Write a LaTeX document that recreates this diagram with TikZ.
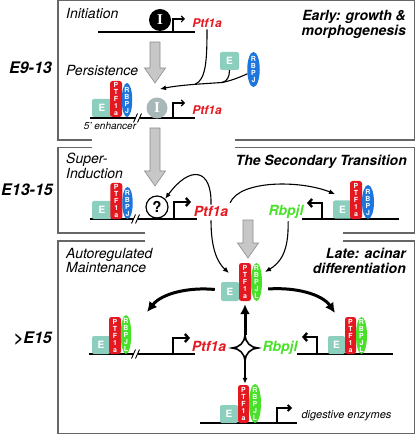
\documentclass[tikz,border=0pt]{standalone}
\usepackage{fontspec}
\setmainfont{TeX Gyre Heros}
\newfontfamily\serI{Liberation Serif}
\usetikzlibrary{shapes.geometric,arrows.meta}

\definecolor{ptfred}{RGB}{228,24,32}
\definecolor{rbpjblue}{RGB}{28,118,222}
\definecolor{rbpjlgreen}{RGB}{72,224,40}
\definecolor{ecol}{RGB}{141,207,191}
\definecolor{igray}{RGB}{168,184,184}

\tikzset{
  panelline/.style={draw=black!60, line width=1.2pt},
  dna/.style={line width=1.6pt},
  brk/.style={line width=0.9pt},
  ebox/.style={rectangle, rounded corners=2pt, fill=ecol, inner sep=0pt, minimum width=19pt, minimum height=18pt, text=white, font=\fontsize{10}{10}\selectfont\bfseries},
  ptfbox/.style={rectangle, rounded corners=2.5pt, fill=ptfred, inner sep=0pt, minimum width=12pt, minimum height=37pt},
  rbpjov/.style={ellipse, fill=rbpjblue, inner sep=0pt, minimum width=11pt, minimum height=34pt},
  rbpjlov/.style={ellipse, fill=rbpjlgreen, inner sep=0pt, minimum width=11pt, minimum height=38pt},
  lett/.style={text=white, font=\fontsize{7}{7}\selectfont\bfseries, align=center, inner sep=0pt},
  phaselbl/.style={font=\fontsize{14}{14.5}\selectfont\itshape, align=left, inner sep=0pt, anchor=north west},
  headlbl/.style={font=\fontsize{14}{15}\selectfont\bfseries\itshape, align=right, inner sep=0pt, anchor=north east},
  stagelbl/.style={font=\fontsize{16}{16}\selectfont\bfseries\itshape, inner sep=0pt, anchor=base east},
  gene/.style={font=\fontsize{14}{14}\selectfont\bfseries\itshape, inner sep=1pt, anchor=base},
  grayarr/.style={fill=black!22, draw=black!45, line width=0.6pt},
  arr/.style={-{Latex[length=6pt,width=5pt]}, line width=1.1pt},
  fatarr/.style={-{Latex[length=10pt,width=10pt]}, line width=3pt},
  prom/.style={-{Straight Barb[length=3pt,width=6pt]}, line width=1.1pt},
  fatprom/.style={-{Straight Barb[length=3.5pt,width=8pt]}, line width=2.4pt},
}

\begin{document}
\begin{tikzpicture}[x=1pt,y=-1pt]
  \useasboundingbox (0,0) rectangle (416,435);

  % panels
  \draw[panelline] (92,140) -- (58,140) -- (58,0.8) -- (414.5,0.8) -- (414.5,140) -- (235,140);
  \draw[panelline] (92,147.5) -- (58,147.5) -- (58,233) -- (145,233);
  \draw[panelline] (343,233) -- (414.5,233) -- (414.5,147.5) -- (235,147.5);
  \draw[panelline] (145,241) -- (58,241) -- (58,433.5) -- (414.5,433.5) -- (414.5,241) -- (343,241);

  % labels
  \node[stagelbl] (s1) at (52,74) {E9-13};
  \node[stagelbl] (s2) at (53,196) {E13-15};
  \node[stagelbl] (s3) at (52,343) {>E15};
  \node[phaselbl] (init) at (66,8) {Initiation};
  \node[phaselbl] (pers) at (66,65) {Persistence};
  \node[phaselbl] (sup) at (66,153) {Super-\\Induction};
  \node[phaselbl] (auto) at (66,248) {Autoregulated\\Maintenance};
  \node[headlbl] (early) at (406,10) {Early: growth \&\\morphogenesis};
  \node[headlbl] (second) at (407,155) {The Secondary Transition};
  \node[headlbl] (late) at (406,248) {Late: acinar\\differentiation};

  % big gray arrows
  \filldraw[grayarr] (150,42) -- (160,42) -- (160,68) -- (165.5,68) -- (155,83) -- (144.5,68) -- (150,68) -- cycle;
  \filldraw[grayarr] (150,128) -- (160,128) -- (160,171) -- (165.5,171) -- (155,186) -- (144.5,171) -- (150,171) -- cycle;
  \filldraw[grayarr] (243,220) -- (253,220) -- (253,243) -- (258.5,243) -- (248,258) -- (237.5,243) -- (243,243) -- cycle;

  % Initiation
  \draw[dna] (98,32) -- (195,32);
  \node[circle, fill=black, minimum size=22pt, inner sep=0pt, text=white, font=\serI\fontsize{15}{15}\selectfont\bfseries] (i1) at (160,20) {I};
  \coordinate (pr1) at (173,32);
  \draw[prom] (pr1) -- ++(0,-13) -- ++(12,0);
  \node[gene, font=\fontsize{12}{12}\selectfont\bfseries\itshape, text=ptfred] (g1) at (207,28) {Ptf1a};

  % Persistence
  \draw[dna] (90,118) -- (136,118);
  \draw[dna] (140,118) -- (195,118);
  \draw[brk] (133.5,122.5) -- (137.5,113.5);
  \draw[brk] (137.5,122.5) -- (141.5,113.5);
  \node[ebox, minimum width=20pt] (e1) at (102,108) {E};
  \node[ptfbox, minimum height=36pt, label={[lett]center:{P\\T\\F\\1\\a}}] (p1) at (116,99) {};
  \node[rbpjov, minimum width=10.5pt, label={[lett]center:{R\\B\\P\\J}}] (r1) at (127,100) {};
  \node[font=\fontsize{10}{10}\selectfont\itshape, inner sep=0pt, anchor=base] (enh) at (110,130) {5' enhancer};
  \node[circle, fill=igray, minimum size=21pt, inner sep=0pt, text=white, font=\serI\fontsize{15}{15}\selectfont\bfseries] (i2) at (157,108) {I};
  \coordinate (pr2) at (173,118);
  \draw[prom] (pr2) -- ++(0,-15) -- ++(12,0);
  \node[gene, font=\fontsize{12}{12}\selectfont\bfseries\itshape, text=ptfred] (g2) at (207,115) {Ptf1a};

  \node[ebox] (e2) at (229.5,61) {E};
  \node[rbpjov, minimum width=12.5pt, minimum height=35pt, label={[lett]center:{R\\B\\P\\J}}] (r2) at (253.5,69.5) {};

  \coordinate (t1) at (160,89);
  \coordinate (j1) at (222,82.5);
  \coordinate (j2) at (195,84.3);
  \draw[arr] (r2.215) .. controls (238,78) and (230,81) .. (j1) .. controls (200,84) and (180,85) .. (t1);
  \draw[line width=1.1pt] (e2.south) .. controls (229.5,77) and (227,81.5) .. (j1);
  \draw[line width=1.1pt] (g1.south) .. controls (207,60) and (206,80) .. (j2);

  % Super-induction
  \draw[dna] (90,219) -- (134,219);
  \draw[dna] (138,219) -- (197,219);
  \draw[brk] (131.5,223.5) -- (135.5,214.5);
  \draw[brk] (135.5,223.5) -- (139.5,214.5);
  \node[ebox, minimum width=20pt] (e3) at (102,210) {E};
  \node[ptfbox, minimum height=36pt, label={[lett]center:{P\\T\\F\\1\\a}}] (p3) at (116.3,201) {};
  \node[rbpjov, minimum width=10.5pt, minimum height=32pt, label={[lett]center:{R\\B\\P\\J}}] (r3) at (127.5,203) {};
  \node[circle, draw, line width=1.2pt, fill=white, minimum size=22pt, inner sep=0pt, font=\fontsize{15}{15}\selectfont\bfseries] (q) at (157,207) {?};
  \coordinate (pr3) at (174,219);
  \draw[fatprom] (pr3) -- ++(0,-17) -- ++(17,0);
  \node[gene, text=ptfred] (g3) at (211,216) {Ptf1a};

  \draw[dna] (302,219) -- (399,219);
  \coordinate (pr4) at (322,219);
  \draw[fatprom] (pr4) -- ++(0,-16) -- ++(-15,0);
  \node[gene, text=rbpjlgreen] (g4) at (286,215) {Rbpjl};
  \node[ebox] (e4) at (342.5,209.5) {E};
  \node[ptfbox, minimum height=38pt, label={[lett]center:{P\\T\\F\\1\\a}}] (p4) at (356,200) {};
  \node[rbpjov, minimum width=12pt, label={[lett]center:{R\\B\\P\\J}}] (r4) at (368,202) {};

  \coordinate (t3) at (229,273);
  \coordinate (t4) at (335,194);
  \coordinate (t5) at (265,272);
  \draw[arr] (g3.north) .. controls (212,168) and (190,165) .. (q.north east);
  \draw[arr, shorten <=2pt] (g3.north east) .. controls (240,180) and (300,180) .. (t4);
  \draw[arr, shorten <=3pt] (g3.south) .. controls (211,250) and (218,263) .. (t3);
  \draw[arr, shorten <=2pt] ([xshift=2pt]g4.south) .. controls (289,252) and (280,263) .. (t5);

  % Late
  \node[ebox, minimum width=18pt, minimum height=19pt] (e5) at (230,291.5) {E};
  \node[ptfbox, minimum height=38pt, label={[lett]center:{P\\T\\F\\1\\a}}] (p5) at (245,282) {};
  \node[rbpjlov, label={[lett]center:{R\\B\\P\\J\\L}}] (r5) at (256.5,282) {};

  \draw[dna] (89,354) -- (134,354);
  \draw[dna] (138,354) -- (195,354);
  \draw[brk] (131.5,358.5) -- (135.5,349.5);
  \draw[brk] (135.5,358.5) -- (139.5,349.5);
  \node[ebox, minimum width=18pt] (e6) at (101,345) {E};
  \node[ptfbox, label={[lett]center:{P\\T\\F\\1\\a}}] (p6) at (115,335.5) {};
  \node[rbpjlov, minimum width=10.5pt, minimum height=39pt, label={[lett]center:{R\\B\\P\\J\\L}}] (r6) at (126,334.5) {};
  \coordinate (pr5) at (173,354);
  \draw[fatprom] (pr5) -- ++(0,-16) -- ++(17,0);
  \node[gene, text=ptfred] (g5) at (209,351) {Ptf1a};
  \node[gene, text=rbpjlgreen] (g6) at (280,351) {Rbpjl};

  \draw[dna] (297,354) -- (393,354);
  \coordinate (pr6) at (317,354);
  \draw[fatprom] (pr6) -- ++(0,-17) -- ++(-15,0);
  \node[ebox, minimum width=17pt] (e7) at (336.5,345) {E};
  \node[ptfbox, minimum width=11pt, label={[lett]center:{P\\T\\F\\1\\a}}] (p7) at (350.5,335.5) {};
  \node[rbpjlov, minimum height=37pt, label={[lett]center:{R\\B\\P\\J\\L}}] (r7) at (361.5,335.5) {};

  \draw[dna] (200,423) -- (297,423);
  \coordinate (pr7) at (277,423);
  \draw[prom, line width=1.8pt] (pr7) -- ++(0,-15) -- ++(15,0);
  \node[ebox, minimum width=18pt] (e8) at (229,414) {E};
  \node[ptfbox, minimum width=11pt, minimum height=38pt, label={[lett]center:{P\\T\\F\\1\\a}}] (p8) at (243.5,404) {};
  \node[rbpjlov, minimum width=12pt, minimum height=39pt, label={[lett]center:{R\\B\\P\\J\\L}}] (r8) at (255,403.5) {};
  \node[font=\fontsize{11}{11}\selectfont\itshape, inner sep=0pt, anchor=base] (enz) at (346.5,418) {digestive enzymes};

  % star
  \coordinate (sw) at (232,348);
  \coordinate (sn) at (245,335);
  \coordinate (se) at (258,348);
  \coordinate (ss) at (245,361);
  \filldraw[fill=white, line width=1.6pt] (sw) .. controls +(7,0) and +(0,7) .. (sn) .. controls +(0,7) and +(-7,0) .. (se) .. controls +(-7,0) and +(0,-7) .. (ss) .. controls +(0,-7) and +(7,0) .. (sw) -- cycle;
  \draw[fatarr, shorten >=3pt] (sn) -- (p5.south);
  \draw[arr, line width=1.6pt, shorten >=1pt] (ss) -- (ss |- p8.north);

  \coordinate (t6) at (147,312);
  \coordinate (t7) at (335,313);
  \draw[fatarr] ([shift={(-6,-2)}]e5.west) .. controls (190,287) and (162,293) .. (t6);
  \draw[fatarr] ([shift={(6,7)}]r5.east) .. controls (295,287) and (322,294) .. (t7);
\end{tikzpicture}
\end{document}
